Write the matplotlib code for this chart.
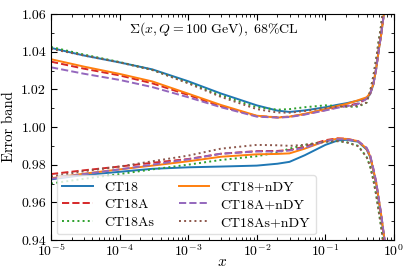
import numpy as np
import matplotlib
matplotlib.use("Agg")
import matplotlib.pyplot as plt
from matplotlib.ticker import MultipleLocator, FormatStrFormatter

plt.rcParams['font.family'] = 'serif'
plt.rcParams['font.serif'] = ['cmr10', 'DejaVu Serif']
plt.rcParams['mathtext.fontset'] = 'cm'
plt.rcParams['axes.formatter.use_mathtext'] = True
plt.rcParams['axes.unicode_minus'] = False

x = [1e-5, 3e-5, 1e-4, 3e-4, 1e-3, 3e-3, 1e-2, 2e-2, 3e-2, 5e-2, 0.1, 0.15, 0.2,
     0.3, 0.4, 0.45, 0.5, 0.55, 0.6, 0.65, 0.7, 0.75, 0.8]

# upper edges of the error band
ct18_up = [1.042, 1.038, 1.0343, 1.0306, 1.0243, 1.0178, 1.0115, 1.0087, 1.008, 1.0088, 1.0105,
           1.0118, 1.0126, 1.014, 1.0152, 1.0175, 1.0225, 1.031, 1.041, 1.049, 1.058, 1.066, 1.075]
ct18a_up = [1.0347, 1.031, 1.0274, 1.0232, 1.017, 1.011, 1.0058, 1.0052, 1.0055, 1.0068, 1.009,
            1.0105, 1.0112, 1.0125, 1.015, 1.0178, 1.0228, 1.0308, 1.041, 1.049, 1.058, 1.066, 1.075]
ct18as_up = [1.0425, 1.0385, 1.0345, 1.0303, 1.0235, 1.0168, 1.0105, 1.0092, 1.0095, 1.0105, 1.0115,
             1.0112, 1.0108, 1.0108, 1.013, 1.019, 1.027, 1.036, 1.046, 1.054, 1.064, 1.072, 1.08]
ct18ndy_up = [1.036, 1.0321, 1.0282, 1.0242, 1.0177, 1.0117, 1.006, 1.005, 1.0055, 1.007, 1.0095,
              1.0112, 1.0122, 1.0142, 1.0158, 1.018, 1.023, 1.031, 1.041, 1.049, 1.058, 1.066, 1.075]
ct18andy_up = [1.0317, 1.0283, 1.025, 1.0212, 1.0158, 1.0105, 1.0055, 1.005, 1.0053, 1.0066, 1.0088,
               1.0102, 1.011, 1.0122, 1.015, 1.0178, 1.0228, 1.0308, 1.041, 1.049, 1.058, 1.066, 1.075]
ct18asndy_up = [1.0415, 1.038, 1.0343, 1.0303, 1.0232, 1.016, 1.0095, 1.0077, 1.0076, 1.0085, 1.01,
                1.0108, 1.011, 1.0112, 1.013, 1.019, 1.027, 1.036, 1.046, 1.054, 1.064, 1.072, 1.08]

# lower edges of the error band
ct18_lo = [0.9722, 0.9745, 0.9762, 0.9778, 0.9786, 0.979, 0.9795, 0.9805, 0.9815, 0.985, 0.9905,
           0.9928, 0.9932, 0.9922, 0.988, 0.984, 0.977, 0.970, 0.961, 0.953, 0.944, 0.936, 0.925]
ct18a_lo = [0.975, 0.977, 0.979, 0.981, 0.983, 0.9858, 0.9872, 0.9873, 0.9878, 0.9895, 0.993,
            0.994, 0.9938, 0.9925, 0.9885, 0.9845, 0.9775, 0.9705, 0.9615, 0.9535, 0.9445, 0.9365, 0.9255]
ct18as_lo = [0.970, 0.9725, 0.975, 0.9775, 0.980, 0.9825, 0.9845, 0.9865, 0.9885, 0.9905, 0.9922,
             0.9925, 0.992, 0.990, 0.984, 0.979, 0.972, 0.964, 0.955, 0.947, 0.938, 0.930, 0.92]
ct18ndy_lo = [0.9728, 0.9752, 0.9775, 0.9795, 0.9818, 0.9842, 0.9855, 0.9857, 0.986, 0.9885, 0.9925,
              0.9938, 0.9937, 0.9925, 0.9885, 0.9845, 0.9775, 0.9705, 0.9615, 0.9535, 0.9445, 0.9365, 0.9255]
ct18andy_lo = [0.9725, 0.975, 0.9775, 0.980, 0.9828, 0.9858, 0.987, 0.987, 0.9875, 0.989, 0.9925,
               0.9935, 0.9935, 0.9925, 0.989, 0.985, 0.978, 0.971, 0.962, 0.954, 0.945, 0.937, 0.926]
ct18asndy_lo = [0.9738, 0.9765, 0.979, 0.9818, 0.9848, 0.9885, 0.9905, 0.9903, 0.990, 0.9905, 0.9922,
                0.9925, 0.992, 0.9898, 0.984, 0.979, 0.972, 0.964, 0.955, 0.947, 0.938, 0.930, 0.92]

labels = ['CT18', 'CT18A', 'CT18As', 'CT18+nDY', 'CT18A+nDY', 'CT18As+nDY']
uppers = [ct18_up, ct18a_up, ct18as_up, ct18ndy_up, ct18andy_up, ct18asndy_up]
lowers = [ct18_lo, ct18a_lo, ct18as_lo, ct18ndy_lo, ct18andy_lo, ct18asndy_lo]
colors = ['C0', 'C3', 'C2', 'C1', 'C4', 'C5']
styles = ['-', '--', ':', '-', '--', ':']

fig = plt.figure(figsize=(4.07, 2.71), dpi=100)
ax = fig.add_axes([0.1253, 0.1144, 0.8427, 0.8339])

for lab, up, lo, c, ls in zip(labels, uppers, lowers, colors, styles):
    ax.plot(x, up, color=c, ls=ls, lw=1.4, label=lab)
    ax.plot(x, lo, color=c, ls=ls, lw=1.4)

ax.set_xscale('log')
ax.set_xlim(1e-5, 1)
ax.set_ylim(0.94, 1.06)
ax.yaxis.set_major_locator(MultipleLocator(0.02))
ax.yaxis.set_minor_locator(MultipleLocator(0.01))
ax.yaxis.set_major_formatter(FormatStrFormatter('%.2f'))
ax.tick_params(which='both', direction='in', top=True, right=True, labelsize=10)
ax.tick_params(which='major', length=4)
ax.tick_params(which='minor', length=2)
ax.tick_params(axis='x', which='major', pad=2)

ax.set_xlabel('$x$', fontsize=11, labelpad=-3)
ax.set_ylabel('Error band', fontsize=10.5, labelpad=4)
ax.text(0.475, 0.935, r'$\Sigma(x, Q = 100\ \mathrm{GeV}),\ 68\%\mathrm{CL}$',
        transform=ax.transAxes, ha='center', va='center', fontsize=10)

ax.legend(loc='lower left', ncol=2, fontsize=10, frameon=True, handlelength=2.2,
          handletextpad=0.8, columnspacing=1.8, labelspacing=0.35,
          borderaxespad=0.4, fancybox=True, edgecolor='0.85')

fig.savefig('out.png', dpi=100)
